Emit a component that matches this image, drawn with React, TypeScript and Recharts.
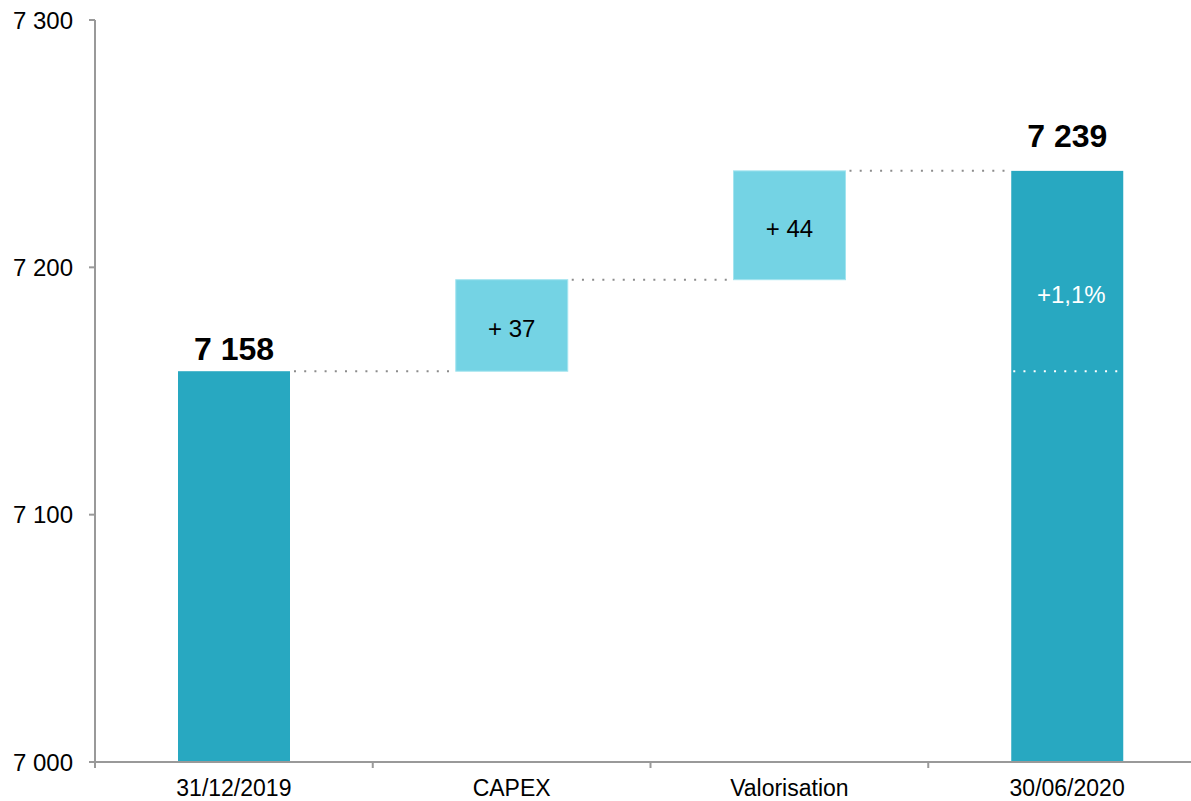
import React from 'react';
import { BarChart, Bar, XAxis, YAxis } from 'recharts';

const categories = ['31/12/2019', 'CAPEX', 'Valorisation', '30/06/2020'];
const baseValues = [0, 7158, 7195, 0];
const stepValues = [7158, 37, 44, 7239];
const isTotal = [true, false, false, true];
const yTicks = [7000, 7100, 7200, 7300];
const Y_MIN = 7000;
const Y_MAX = 7300;

const CHART_W = 1206;
const CHART_H = 801;
const Y_AXIS_W = 95;
const X_AXIS_H = 39;
const TOP = 20;
const BAND = (CHART_W - Y_AXIS_W) / categories.length;
const AXIS_Y = CHART_H - X_AXIS_H;

const DARK = '#28A8C1';
const LIGHT = '#74D3E4';
const FONT = '"Liberation Sans", Arial, sans-serif';

const data = categories.map((name, i) => ({
  name,
  base: baseValues[i],
  value: stepValues[i],
  total: isTotal[i],
}));

const fmt = (v: number) => {
  const s = Math.round(v).toString();
  return s.length > 3 ? s.slice(0, s.length - 3) + ' ' + s.slice(-3) : s;
};

const WaterfallShape = (props: any) => {
  const { x, y, width, height, payload } = props;
  const i = categories.indexOf(payload.name);
  // totals get clipped at the axis floor, so measure from there
  const pxPerUnit = payload.total ? height / (payload.value - Y_MIN) : height / payload.value;
  const cx = x + width / 2;
  const last = i === categories.length - 1;
  const out: React.ReactNode[] = [];

  out.push(
    <rect key="r" x={x} y={y} width={width} height={height}
      fill={payload.total ? DARK : LIGHT}
      stroke={payload.total ? 'none' : '#A3E4EF'} strokeWidth={1} />
  );

  if (!last) {
    out.push(
      <line key="c" x1={x + width + 4} x2={x + BAND} y1={y} y2={y}
        stroke="#8C8C8C" strokeWidth={2} strokeDasharray="2 8.2" />
    );
  }

  if (payload.total) {
    out.push(
      <text key="t" x={cx} y={y - (last ? 24 : 11)} textAnchor="middle" fontSize={32}
        fontWeight="bold" fill="#000" fontFamily={FONT}>{fmt(payload.value)}</text>
    );
  } else {
    const h = payload.value * pxPerUnit;
    out.push(
      <text key="t" x={cx} y={y + h / 2 + 12} textAnchor="middle" fontSize={24}
        fill="#000" fontFamily={FONT}>{'+ ' + payload.value}</text>
    );
  }

  if (last) {
    const first = stepValues[0];
    const yStart = y + (payload.value - first) * pxPerUnit;
    const pct = ((payload.value - first) / first) * 100;
    out.push(
      <line key="w" x1={x + 2} x2={x + width - 6} y1={yStart} y2={yStart}
        stroke="#fff" strokeWidth={2} strokeDasharray="2 8.2" />
    );
    out.push(
      <text key="p" x={cx + 4} y={y + 132} textAnchor="middle" fontSize={24}
        fill="#fff" fontFamily={FONT}>{'+' + pct.toFixed(1).replace('.', ',') + '%'}</text>
    );
  }

  return <g>{out}</g>;
};

const XTick = (props: any) => {
  const { x, payload, index } = props;
  return (
    <g>
      <line x1={x - BAND / 2} x2={x - BAND / 2} y1={AXIS_Y} y2={AXIS_Y + 6} stroke="#999" strokeWidth={2} />
      {index === categories.length - 1 && (
        <line x1={x + BAND / 2} x2={x + BAND / 2} y1={AXIS_Y} y2={AXIS_Y + 6} stroke="#999" strokeWidth={2} />
      )}
      <text x={x} y={AXIS_Y + 34} textAnchor="middle" fontSize={23}
        fill="#000" fontFamily={FONT}>{payload.value}</text>
    </g>
  );
};

export default function App() {
  return (
    <div style={{ position: 'absolute', left: 0, top: 0, width: 1191, height: 801, overflow: 'hidden', background: '#fff' }}>
      <BarChart width={CHART_W} height={CHART_H} data={data}
        margin={{ top: TOP, right: 0, bottom: 0, left: 0 }} barSize={112}
        style={{ fontFamily: FONT }}>
        <XAxis dataKey="name" height={X_AXIS_H} tickLine={false} tick={<XTick />}
          axisLine={{ stroke: '#999', strokeWidth: 2 }} interval={0} />
        <YAxis type="number" domain={[Y_MIN, Y_MAX]} ticks={yTicks} allowDataOverflow
          width={Y_AXIS_W} tickSize={6} tickMargin={16} tickFormatter={fmt}
          axisLine={{ stroke: '#999', strokeWidth: 2 }} tickLine={{ stroke: '#999', strokeWidth: 2 }}
          tick={{ fill: '#000', fontSize: 24, fontFamily: FONT }} />
        <Bar dataKey="base" stackId="w" fill="transparent" isAnimationActive={false} />
        <Bar dataKey="value" stackId="w" shape={WaterfallShape} isAnimationActive={false} />
      </BarChart>
    </div>
  );
}
